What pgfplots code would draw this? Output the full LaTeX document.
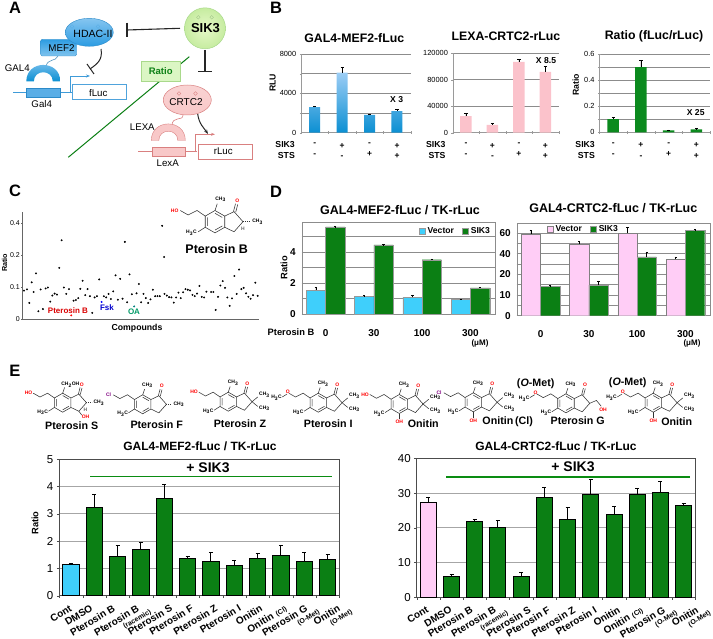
\documentclass[border=0pt]{standalone}
\usepackage{pgfplots}
\pgfplotsset{compat=1.18}
\usepackage{fontspec}
\setmainfont{Liberation Sans}
\usetikzlibrary{arrows.meta}

\definecolor{gr}{HTML}{0B7F14}
\definecolor{cy}{HTML}{3FCFFB}
\definecolor{pk}{HTML}{FFCDF6}
\definecolor{grd}{HTML}{9A9A9A}
\definecolor{btop}{HTML}{9CCDF5}
\definecolor{bbot}{HTML}{0B8FD2}
\definecolor{pb}{HTML}{FBC2CB}
\definecolor{gb}{HTML}{0B8A1E}
\definecolor{ab}{HTML}{2C9CE2}
\definecolor{abd}{HTML}{2C8AC8}
\definecolor{abl}{HTML}{85C5F0}
\definecolor{abm}{HTML}{3F9BD8}
\definecolor{abf}{HTML}{5AAEE6}
\definecolor{abe}{HTML}{4FA3DC}
\definecolor{ar}{HTML}{D98080}
\definecolor{arl}{HTML}{F8C8C8}
\definecolor{agf}{HTML}{DBF6C4}
\definecolor{age}{HTML}{A9D98B}
\definecolor{agi}{HTML}{E6F8C8}
\definecolor{ago}{HTML}{C6ECA0}

\newcommand{\fs}[1]{\fontsize{#1}{#1}\selectfont}
\newcommand{\lab}[4][black]{\node[text=#1,font=\fs{5}\bfseries,inner sep=0pt] at (#2,#3) {#4};}
\newcommand{\CH}{CH\textsubscript{3}}
\newcommand{\HC}{H\textsubscript{3}C}
% small second line of a slanted tick label, sticking out to the right
\newcommand{\sub}[1]{\makebox[0pt][r]{\fs{7}#1\hspace{-9pt}}}

% indane skeleton with the bonds all compounds share, #4 adds the rest
\newcommand{\mol}[4]{\begin{scope}[shift={(#1,#2)},scale=#3,line width=.55pt,black!80]
  \draw (0,-10)--(8.7,-5)--(8.7,5)--(0,10)--(-8.7,5)--(-8.7,-5)--cycle;
  \draw (0,-7.5)--(6.5,-3.8) (6.5,3.8)--(0,7.5) (-6.5,3.8)--(-6.5,-3.8);
  \draw (8.7,-5)--(17,-9)--(25,0)--(17,9)--(8.7,5);
  \draw (16.5,-9)--(18.3,-16) (18.5,-8.5)--(20.3,-15.5);
  \draw (0,-10)--(2,-16) (-8.7,5)--(-15,9);
  \draw (-8.7,-5)--(-16,-10)--(-24,-6)--(-31,-10);
  \lab[red]{20}{-19}{O}
  #4
\end{scope}}
\newcommand{\gem}{\draw (25,0)--(31,-5) (25,0)--(31,5); \lab{38}{-7}{\CH} \lab{38}{7}{\CH}}
\newcommand{\dsh}{\draw[densely dotted,line width=.9pt] (25,0)--(31,0); \lab{38}{0}{\CH}}
\newcommand{\botoh}{\draw (0,10)--(0,16); \lab[red]{0}{19}{OH}}
\newcommand{\ome}{\lab[red]{-32}{-11}{O} \draw (-33,-9)--(-38,-6); \lab{-44}{-5}{\HC}}

% half-ring DNA binding domain of panel A
\newcommand{\halfring}[5]{\path[#5] ({#1-#3},#2) .. controls ({#1-#3},{#2-1.3*#3}) and ({#1+#3},{#2-1.3*#3}) .. ({#1+#3},#2)
  -- ({#1+#4},#2) .. controls ({#1+#4},{#2-1.3*#4}) and ({#1-#4},{#2-1.3*#4}) .. ({#1-#4},#2) -- cycle;}

\pgfplotsset{
  sq/.style={legend image code/.code={\draw[##1] (0pt,-3pt) rectangle (6.5pt,3pt);}},
  base/.style={scale only axis,anchor=north west,
    /pgf/number format/fixed,
    /pgf/number format/assume math mode=true,/pgf/number format/1000 sep={},
    scaled ticks=false,ybar,tick align=outside,
    xtick={0,1,2,3},major x tick style={draw=none},major tick length=2.5pt,minor tick length=2.5pt,
    xtick pos=bottom,ytick pos=left,enlargelimits=false,
    error bars/error bar style={black,line width=.6pt},
    error bars/error mark options={black,rotate=90,mark size=1.6pt,line width=.6pt}},
  pbx/.style={base,axis lines=left,axis line style={-,grd},tick style={grd},
    xmin=-.5,xmax=3.5,minor xtick={-.5,.5,1.5,2.5,3.5},
    ymajorgrids,yminorgrids,grid style={line width=.6pt,black!45},
    tick label style={font=\fs{7.4}},
    xticklabels={{-\\-},{+\\-},{-\\+},{+\\+}},
    x tick label style={font=\fontsize{8.5}{10.6}\selectfont\bfseries,align=center,inner sep=1pt,yshift=-8pt},
    bar width=11pt},
  pdx/.style={base,axis line style={black!45},tick style={draw=none},
    xmin=-.495,xmax=3.51,
    ymajorgrids,yminorgrids,grid style={line width=.6pt,black!45},
    tick label style={font=\fs{10}\bfseries},
    xticklabels={0,30,100,300},
    x tick label style={yshift=-9pt},
    bar width=19.3pt,
    error bars/error mark options={black,rotate=90,mark size=1.2pt,line width=.5pt},
    legend style={draw=none,fill=none,legend columns=2,font=\fs{8.6}\bfseries,inner sep=0pt,
      /tikz/every even column/.append style={column sep=6pt}}},
  % the slanted labels of panel E do not sit evenly under their bars, so xtick
  % holds where each label goes; the bars stay at 0..11
  pex/.style={base,axis line style={black!70,line width=.7pt},tick style={black!70},
    xmin=-.5,xmax=11.5,minor xtick={-.5,.5,...,11.5},
    ymajorgrids,grid style={line width=.8pt,black!35},
    y tick label style={font=\fs{11.5}},
    xticklabels={Cont,DMSO,Pterosin B,{Pterosin B\\\sub{(racemic)}},
      Pterosin S,Pterosin F,Pterosin Z,Pterosin I,Onitin,{Onitin\,\,{\fs{7}(Cl)}},
      {Pterosin G\\\sub{(O-Met)}},{Onitin\\\sub{(O-Met)}}},
    x tick label style={font=\fontsize{10}{8.2}\selectfont\bfseries,rotate=31,anchor=north east,align=right,inner sep=0pt,yshift=-8pt,xshift=2pt},
    bar width=16.5pt,
    error bars/error mark options={black,rotate=90,mark size=2pt,line width=1pt},
    error bars/error bar style={black,line width=1pt}},
}

\begin{document}
\begin{tikzpicture}
\path[use as bounding box] (0,0) rectangle (713pt,-639pt);

% ---------- panel B
\begin{axis}[pbx,at={(301pt,-54pt)},width=109.7pt,height=78.7pt,ymin=0,ymax=8000,
  ytick={0,4000,8000},minor ytick={2000,6000}]
\addplot[top color=btop,bottom color=bbot,draw=none,
  error bars/.cd,y dir=plus,y explicit] table[x=x,y=y,y error=e] {
x y e
0 2600 80
1 6100 520
2 1800 60
3 2200 170
};
\end{axis}
\begin{axis}[pbx,at={(452.7pt,-53.3pt)},width=106pt,height=79.4pt,ymin=0,ymax=120000,
  ytick={0,40000,80000,120000},bar width=11.5pt]
\addplot[fill=pb,draw=none,
  error bars/.cd,y dir=plus,y explicit] table[x=x,y=y,y error=e] {
x y e
0 25000 4000
1 12000 1500
2 107000 4000
3 92000 8000
};
\end{axis}
\begin{axis}[pbx,at={(599.3pt,-54pt)},width=111pt,height=78.3pt,ymin=0,ymax=.6,
  ytick={0,.2,.4,.6},minor ytick={.1,.3,.5},bar width=11.5pt]
\addplot[fill=gb,draw=none,
  error bars/.cd,y dir=plus,y explicit] table[x=x,y=y,y error=e] {
x y e
0 .1 .015
1 .5 .05
2 .015 .003
3 .022 .005
};
\end{axis}

% ---------- panel C
\begin{axis}[scale only axis,anchor=south west,at={(22pt,-319.3pt)},width=237pt,height=107.6pt,
  axis lines=left,axis line style={-,black!60,line width=.7pt},
  xmin=66,xmax=778,ymin=0,ymax=.335,xtick=\empty,
  ytick={0,.1,.2,.3},yticklabels={0,0.1,0.2,0.4},tick style={black!60},major tick length=2pt,
  tick label style={font=\fs{7}},y tick label style={inner sep=1pt},
  clip=false]
\addplot[only marks,mark=*,mark size=.75pt,black] table {
72 .089
81 .093
88 .051
95 .115
101 .085
108 .143
115 .025
122 .093
129 .032
137 .096
144 .099
151 .055
157 .074
164 .080
171 .077
178 .160
185 .246
192 .099
199 .079
207 .094
221 .058
228 .060
235 .066
241 .095
248 .120
256 .075
263 .094
270 .072
277 .020
284 .068
291 .072
298 .124
312 .072
319 .068
326 .079
333 .063
340 .087
347 .137
354 .061
361 .126
368 .064
375 .241
382 .053
389 .140
396 .078
410 .081
417 .110
424 .053
431 .079
438 .066
445 .051
452 .062
459 .092
466 .072
473 .072
480 .072
487 .291
493 .194
494 .079
501 .074
508 .069
515 .068
522 .052
529 .068
536 .083
543 .066
550 .084
557 .094
564 .092
571 .090
578 .076
585 .072
592 .080
599 .104
606 .070
613 .068
620 .086
634 .085
641 .085
648 .029
655 .070
662 .105
669 .119
676 .098
683 .068
690 .042
697 .065
704 .135
711 .079
718 .155
725 .094
732 .098
739 .081
746 .070
753 .064
760 .075
767 .114
774 .073
};
\addplot[only marks,mark=*,mark size=.75pt,red] coordinates {(214,.012)};
\addplot[only marks,mark=*,mark size=.75pt,blue] coordinates {(305,.054)};
\addplot[only marks,mark=*,mark size=.75pt,teal] coordinates {(403,.040)};
\end{axis}

% ---------- panel D
\begin{axis}[pdx,at={(301.7pt,-222.3pt)},width=193.3pt,height=92pt,ymin=0,ymax=5.9,
  ytick={0,2,4},minor ytick={1,3,5},
  legend style={at={(.985,.965)},anchor=north east}]
\addplot[fill=cy,draw=black!40,line width=.3pt,bar shift=-9.65pt,sq,
  error bars/.cd,y dir=plus,y explicit] table[x=x,y=y,y error=e] {
x y e
0 1.55 .2
1 1.15 .05
2 1.1 .15
3 .95 .03
};
\addplot[fill=gr,draw=black!40,line width=.3pt,bar shift=9.65pt,sq,
  error bars/.cd,y dir=plus,y explicit] table[x=x,y=y,y error=e] {
x y e
0 5.6 .03
1 4.45 .02
2 3.5 .05
3 1.7 .05
};
\legend{Vector,SIK3}
\end{axis}
\begin{axis}[pdx,at={(516.7pt,-223.3pt)},width=193.3pt,height=92.4pt,ymin=0,ymax=44.7,
  ytick={0,10,20,30,40},yticklabels={0,10,20,40,60},minor ytick={5,15,25,35},
  legend style={at={(.155,1)},anchor=north west}]
\addplot[fill=pk,draw=black!50,line width=.3pt,bar shift=-9.65pt,sq,
  error bars/.cd,y dir=plus,y explicit] table[x=x,y=y,y error=e] {
x y e
0 39.5 2
1 34.8 1
2 40 2.7
3 27.4 1.1
};
\addplot[fill=gr,draw=black!40,line width=.3pt,bar shift=9.65pt,sq,
  error bars/.cd,y dir=plus,y explicit] table[x=x,y=y,y error=e] {
x y e
0 14.2 .3
1 14.8 2.1
2 28.5 2.3
3 41.2 .6
};
\legend{Vector,SIK3}
\end{axis}

% ---------- panel E
\begin{axis}[pex,at={(59.3pt,-459.3pt)},width=280pt,height=136.4pt,ymin=0,ymax=5,ytick={0,...,5},
  xtick={-.34,.56,1.51,2.54,3.97,4.87,5.9,6.91,7.83,8.87,9.76,11.16}]
\addplot[fill=cy,draw=black,line width=1pt,bar shift=0pt,
  error bars/.cd,y dir=plus,y explicit] coordinates {(0,1.13) +- (0,.05)};
\addplot[fill=gr,draw=black,line width=1pt,bar shift=0pt,
  error bars/.cd,y dir=plus,y explicit] table[x=x,y=y,y error=e] {
x y e
1 3.25 .47
2 1.45 .38
3 1.68 .27
4 3.57 .5
5 1.38 .07
6 1.27 .33
7 1.12 .16
8 1.35 .19
9 1.47 .37
10 1.27 .3
11 1.33 .17
};
\end{axis}
\begin{axis}[pex,at={(416.7pt,-458.3pt)},width=278.6pt,height=139pt,ymin=0,ymax=40,ytick={0,10,...,40},bar width=16pt,
  xtick={-.36,.64,1.54,2.54,4.04,4.87,5.96,6.88,7.88,8.87,9.83,11.26}]
\addplot[fill=pk,draw=black,line width=1pt,bar shift=0pt,
  error bars/.cd,y dir=plus,y explicit] coordinates {(0,27.4) +- (0,1.4)};
\addplot[fill=gr,draw=black,line width=1pt,bar shift=0pt,
  error bars/.cd,y dir=plus,y explicit] table[x=x,y=y,y error=e] {
x y e
1 5.9 .8
2 21.9 .5
3 20 2
4 5.9 1.1
5 28.6 3.1
6 22.5 3.3
7 29.7 4.1
8 23.8 2.3
9 29.6 1.7
10 30.2 3.1
11 26.4 .5
};
\end{axis}

% ---------- texts and diagrams, in the pixel coordinates of the picture
\begin{scope}[x=1pt,y=-1pt]
  % panel letters
  \foreach \l/\x/\y in {A/15/8,B/276/8,C/15/191,D/276/192,E/15/371}
    \node[font=\fs{16.5}\bfseries,inner sep=0pt] at (\x,\y) {\l};

  % titles
  \node[font=\fs{12.3}\bfseries,inner sep=0pt] at (354.3,38.3) {GAL4-MEF2-fLuc};
  \node[font=\fs{12.3}\bfseries,inner sep=0pt] at (506,36.7) {LEXA-CRTC2-rLuc};
  \node[font=\fs{12.3}\bfseries,inner sep=0pt] at (654,36) {Ratio (fLuc/rLuc)};
  \node[font=\fs{12.5}\bfseries,inner sep=0pt] at (400,210) {GAL4-MEF2-fLuc / TK-rLuc};
  \node[font=\fs{12.5}\bfseries,inner sep=0pt] at (613.3,208.3) {GAL4-CRTC2-fLuc / TK-rLuc};
  \node[font=\fs{12}\bfseries,inner sep=0pt] at (200,446.7) {GAL4-MEF2-fLuc / TK-rLuc};
  \node[font=\fs{12}\bfseries,inner sep=0pt] at (556,446) {GAL4-CRTC2-fLuc / TK-rLuc};

  % panel B side texts
  \foreach \x in {295,445.7,595} {
    \node[font=\fs{8.7}\bfseries,anchor=east,inner sep=0pt] at (\x,145) {SIK3};
    \node[font=\fs{8.7}\bfseries,anchor=east,inner sep=0pt] at (\x,155.5) {STS};}
  \node[font=\fs{8.7}\bfseries,rotate=90,inner sep=0pt] at (272.7,83) {RLU};
  \node[font=\fs{8.7}\bfseries,rotate=90,inner sep=0pt] at (575.7,85) {Ratio};
  \node[font=\fs{8.6}\bfseries,inner sep=0pt] at (396.7,100) {X 3};
  \node[font=\fs{8.6}\bfseries,inner sep=0pt] at (546,61) {X 8.5};
  \node[font=\fs{8.6}\bfseries,inner sep=0pt] at (695.7,112.7) {X 25};

  % panel C texts
  \node[font=\fs{7.2}\bfseries,rotate=90,inner sep=0pt] at (4.5,263) {Ratio};
  \node[font=\fs{8.7}\bfseries,inner sep=0pt] at (137,328) {Compounds};
  \node[font=\fs{8}\bfseries,text=red!85!black,inner sep=0pt] at (68,310.7) {Pterosin B};
  \node[font=\fs{8}\bfseries,text=blue!80!black,inner sep=0pt] at (107,307.5) {Fsk};
  \node[font=\fs{8}\bfseries,text=teal!80!green,inner sep=0pt] at (134,311.5) {OA};
  \node[font=\fs{12.5}\bfseries,inner sep=0pt] at (216.7,249) {Pterosin B};
  \mol{215}{221.7}{1.12}{\lab[red]{-36}{-10}{HO} \lab{5}{-20}{\CH} \lab{-21}{10}{\HC} \dsh \lab[black!60]{25}{6}{H}}

  % panel D texts
  \node[font=\fs{9.3}\bfseries,rotate=90,inner sep=0pt] at (284,267.7) {Ratio};
  \node[font=\fs{9.3}\bfseries,inner sep=0pt] at (291,332) {Pterosin B};
  \node[font=\fs{8}\bfseries,inner sep=0pt] at (480,343) {(μM)};
  \node[font=\fs{8}\bfseries,inner sep=0pt] at (692,343) {(μM)};

  % panel E compounds
  \mol{62.7}{402.7}{.95}{\lab[red]{-36}{-10}{HO} \lab{8}{-19}{CH\textsubscript{2}OH} \lab{-21}{10}{\HC} \dsh
    \lab[black!60]{24}{7}{H} \draw (17,9)--(20,13); \lab[red]{24}{15}{OH}}
  \mol{142.7}{404.3}{.95}{\lab[violet]{-36}{-10}{Cl} \lab{5}{-20}{\CH} \lab{-21}{10}{\HC} \dsh}
  \mol{228.3}{401.7}{.95}{\lab[red]{-36}{-10}{HO} \lab{5}{-20}{\CH} \lab{-21}{10}{\HC} \gem}
  \mol{318.3}{402.7}{.95}{\ome \lab{5}{-20}{\CH} \lab{-21}{10}{\HC} \gem}
  \mol{399.3}{404}{.95}{\lab[red]{-36}{-10}{HO} \lab{5}{-20}{\CH} \lab{-21}{10}{\HC} \gem \botoh}
  \mol{473.3}{402.3}{.95}{\lab[violet]{-36}{-10}{Cl} \lab{5}{-20}{\CH} \lab{-21}{10}{\HC} \gem \botoh}
  \mol{566}{403.3}{.95}{\ome \lab{5}{-20}{\CH} \lab{-21}{10}{\HC} \draw (25,0)--(32,-3)--(37,3); \lab[red]{39}{7}{OH}}
  \mol{653.3}{402.7}{.95}{\ome \lab{5}{-20}{\CH} \lab{-21}{10}{\HC} \gem \botoh}
  \foreach \t/\x/\y in {Pterosin S/71.7/425.7,Pterosin F/156.7/425,Pterosin Z/240/423.3,Pterosin I/328.3/423.3,
      Onitin/423.3/423.3,Onitin\,(Cl)/507.7/422,Pterosin G/577.7/420.7,Onitin/676.7/421.7}
    \node[font=\fs{10.7}\bfseries,inner sep=0pt] at (\x,\y) {\t};
  \node[font=\fs{10.7}\bfseries,inner sep=0pt] at (535.7,383.3) {(\textit{O}-Met)};
  \node[font=\fs{10.7}\bfseries,inner sep=0pt] at (627.7,382.7) {(\textit{O}-Met)};

  % panel E texts
  \node[font=\fs{9.3}\bfseries,rotate=90,inner sep=0pt] at (35,523) {Ratio};
  \node[font=\fs{14}\bfseries,inner sep=0pt] at (208,468) {+ SIK3};
  \draw[gr!90!green,line width=1.3pt] (90,476.3)--(332,476.3);
  \node[font=\fs{14}\bfseries,inner sep=0pt] at (573,467) {+ SIK3};
  \draw[gr!90!green,line width=1.3pt] (446,477)--(690,477);

  % panel A
  \draw[gr,line width=1pt] (68.3,157.3)--(189.3,56.7);
  \draw[black!85,line width=1.1pt] (180,28.3)--(127,30);
  \draw[black!85,line width=1.3pt] (127,22.7)--(127,37.3);
  \draw[black!85,line width=1.1pt] (205,50)--(205,71.7);
  \draw[black!85,line width=1.3pt] (198,71.7)--(212,71.7);
  \shade[top color=ab,bottom color=ab!60!white,draw=abd,rounded corners=1.5pt,line width=.4pt] (40.7,39.3) rectangle (76.7,56);
  \shade[top color=abl,bottom color=ab,draw=abd,line width=.4pt] (89.3,32.3) ellipse [x radius=24pt,y radius=14pt];
  \draw[abf,line width=.4pt] (72,26.5) circle (1.8pt) (98,26.5) circle (1.8pt);
  \node[font=\fs{10.5},inner sep=0pt] at (93,33.5) {HDAC-II};
  \node[font=\fs{9.8},inner sep=0pt] at (61.5,48) {MEF2};
  \draw[abm!70!gray,line width=.6pt] (46,67) .. controls (47,58) and (56,62) .. (58,56);
  \node[font=\fs{9.7},inner sep=0pt] at (17.3,68) {GAL4};
  \halfring{43.3}{81.5}{17}{9.5}{top color=abl,bottom color=bbot}
  \draw[abm,line width=.7pt] (13.3,92.7)--(72,92.7);
  \fill[abf,draw=abd,line width=.4pt] (26,88.3) rectangle (60,97.3);
  \node[font=\fs{9.7},inner sep=0pt] at (41.7,104) {Gal4};
  \draw[abm,line width=.8pt,-{Stealth[length=4pt]}] (70,92.7)--(70,76)--(90,76);
  \draw[fill=white,draw=abe,line width=.8pt] (72.7,84.7) rectangle (126.7,99.3);
  \node[font=\fs{9.7},inner sep=0pt] at (98.3,92.7) {fLuc};
  \draw[black!85,line width=1pt] (101,49) .. controls (103,60) and (97,64) .. (90,69);
  \draw[black!85,line width=1pt] (87,64)--(94,74);
  \draw[fill=agf,draw=age,line width=.5pt] (141.3,61) rectangle (180,81.3);
  \node[font=\fs{9.5}\bfseries,text=gr,inner sep=0pt] at (160.7,71.5) {Ratio};
  \shade[inner color=agi,outer color=ago,draw=age,line width=.5pt] (205,28.3) circle (20.5pt);
  \draw[age!80!gray,line width=.4pt] (198.3,17.3) circle (1.8pt) (211.7,17.3) circle (1.8pt);
  \node[font=\fs{13}\bfseries,inner sep=0pt] at (205.5,28) {SIK3};
  % CRTC2 branch
  \draw[ar,line width=.6pt] (172,126) .. controls (172,115) and (183,122) .. (183,115);
  \shade[top color=arl!80!white,bottom color=arl,draw=ar,line width=.5pt] (187.3,100) ellipse [x radius=24pt,y radius=15pt];
  \draw[ar,line width=.4pt] (179,93.5) circle (1.8pt) (195.5,93.5) circle (1.8pt);
  \node[font=\fs{10},inner sep=0pt] at (186,102) {CRTC2};
  \node[font=\fs{9.7},inner sep=0pt] at (142.3,126.7) {LEXA};
  \halfring{168.3}{140.5}{17}{9.5}{fill=arl,draw=ar,line width=.4pt}
  \draw[ar,line width=.7pt] (138.3,151.7)--(197,151.7);
  \fill[arl,draw=ar,line width=.4pt] (151.7,147) rectangle (185,156.7);
  \node[font=\fs{9.7},inner sep=0pt] at (167.7,163.3) {LexA};
  \draw[ar,line width=.8pt,-{Stealth[length=4pt]}] (195,151.7)--(195,134.3)--(215,134.3);
  \draw[fill=white,draw=ar,line width=.8pt] (198.3,144) rectangle (252.3,159.3);
  \node[font=\fs{9.7},inner sep=0pt] at (223.3,151.7) {rLuc};
  \draw[black!85,line width=1pt,-{Stealth[length=4.5pt]}] (197.7,114) .. controls (199,124) and (204,128) .. (208,134);
\end{scope}
\end{tikzpicture}
\end{document}
